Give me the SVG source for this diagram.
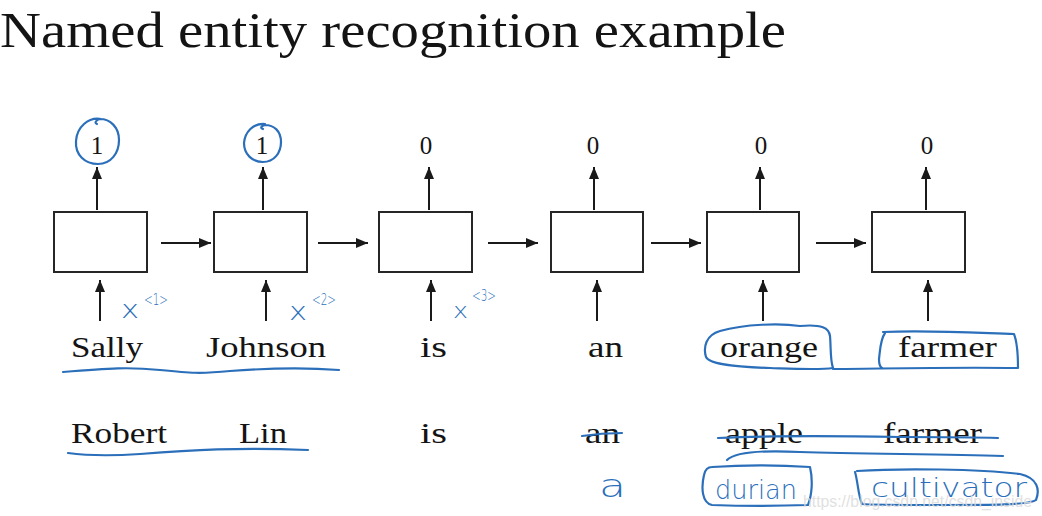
<svg xmlns="http://www.w3.org/2000/svg" width="1042" height="516" viewBox="0 0 1042 516">
<defs>
<style>
.bg{fill:#ffffff}
.cell{fill:#ffffff;stroke:#262626;stroke-width:2}
.arr{stroke:#1a1a1a;stroke-width:2;fill:none;marker-end:url(#ah)}
.serif{font-family:"Liberation Serif","DejaVu Serif",serif;fill:#141414}
.out{font-size:25px;text-anchor:middle}
.word{font-size:29px}
.ink{fill:none;stroke:#2b6fba;stroke-width:2.2;stroke-linecap:round;stroke-linejoin:round}
.hand{font-family:"DejaVu Sans","Noto Sans",sans-serif;fill:#2b6fba;font-weight:300}
.wm{font-family:"Liberation Sans",Arial,sans-serif;font-size:17px;fill:#dcdcdc;opacity:0.85}
</style>
<marker id="ah" markerWidth="12" markerHeight="10" refX="12" refY="5" orient="auto" markerUnits="userSpaceOnUse">
<path d="M0,0 L12,5 L0,10 z" fill="#1a1a1a"/>
</marker>
</defs>
<rect class="bg" x="0" y="0" width="1042" height="516"/>
<text class="serif" x="0" y="47" font-size="50" textLength="786" lengthAdjust="spacingAndGlyphs">Named entity recognition example</text>

<g id="connectors">
<line class="arr" x1="97" y1="210" x2="97" y2="167"/>
<line class="arr" x1="263" y1="210" x2="263" y2="167"/>
<line class="arr" x1="429" y1="210" x2="429" y2="167"/>
<line class="arr" x1="594" y1="210" x2="594" y2="167"/>
<line class="arr" x1="760" y1="210" x2="760" y2="167"/>
<line class="arr" x1="926" y1="210" x2="926" y2="167"/>
<line class="arr" x1="100" y1="321" x2="100" y2="280"/>
<line class="arr" x1="266" y1="321" x2="266" y2="280"/>
<line class="arr" x1="431" y1="321" x2="431" y2="280"/>
<line class="arr" x1="597" y1="321" x2="597" y2="280"/>
<line class="arr" x1="763" y1="321" x2="763" y2="280"/>
<line class="arr" x1="928" y1="321" x2="928" y2="280"/>
<line class="arr" x1="161" y1="243" x2="211" y2="243"/>
<line class="arr" x1="318" y1="243" x2="368" y2="243"/>
<line class="arr" x1="488" y1="243" x2="538" y2="243"/>
<line class="arr" x1="651" y1="243" x2="701" y2="243"/>
<line class="arr" x1="816" y1="243" x2="866" y2="243"/>
</g>

<g id="cell1"><rect class="cell" x="54" y="212" width="93" height="60"/><text class="serif out" x="97" y="154">1</text></g>
<g id="cell2"><rect class="cell" x="214" y="212" width="93" height="60"/><text class="serif out" x="262" y="154">1</text></g>
<g id="cell3"><rect class="cell" x="379" y="212" width="93" height="60"/><text class="serif out" x="426" y="154">0</text></g>
<g id="cell4"><rect class="cell" x="551" y="212" width="92" height="60"/><text class="serif out" x="593" y="154">0</text></g>
<g id="cell5"><rect class="cell" x="707" y="212" width="92" height="60"/><text class="serif out" x="761" y="154">0</text></g>
<g id="cell6"><rect class="cell" x="872" y="212" width="93" height="60"/><text class="serif out" x="927" y="154">0</text></g>

<g id="sentence1" class="serif word">
<text x="71" y="357" textLength="72" lengthAdjust="spacingAndGlyphs">Sally</text>
<text x="206" y="357" textLength="120" lengthAdjust="spacingAndGlyphs">Johnson</text>
<text x="420" y="357" textLength="27" lengthAdjust="spacingAndGlyphs">is</text>
<text x="588" y="357" textLength="35" lengthAdjust="spacingAndGlyphs">an</text>
<text x="720" y="357" textLength="98" lengthAdjust="spacingAndGlyphs">orange</text>
<text x="898" y="357" textLength="99" lengthAdjust="spacingAndGlyphs">farmer</text>
</g>
<g id="sentence2" class="serif word">
<text x="71" y="443" textLength="96" lengthAdjust="spacingAndGlyphs">Robert</text>
<text x="239" y="443" textLength="48" lengthAdjust="spacingAndGlyphs">Lin</text>
<text x="420" y="443" textLength="27" lengthAdjust="spacingAndGlyphs">is</text>
<text x="585" y="443" textLength="35" lengthAdjust="spacingAndGlyphs">an</text>
<text x="725" y="443" textLength="78" lengthAdjust="spacingAndGlyphs">apple</text>
<text x="883" y="443" textLength="99" lengthAdjust="spacingAndGlyphs">farmer</text>
</g>

<g id="annotations">
<path class="ink" d="M101,119 C88,117 77,127 76,141 C75,155 85,164 98,164 C111,164 119,153 119,140 C119,127 110,119 100,119 C96,120 94,123 97,124"/>
<path class="ink" d="M265,124 C253,123 245,132 244,143 C244,154 252,162 263,162 C274,162 281,153 281,142 C281,131 274,125 265,125 C261,126 260,128 263,129"/>
<text class="hand" x="121" y="318" font-size="24" textLength="18" lengthAdjust="spacingAndGlyphs">x</text>
<text class="hand" x="144" y="305" font-size="15" textLength="24" lengthAdjust="spacingAndGlyphs">&lt;1&gt;</text>
<text class="hand" x="289" y="320" font-size="24" textLength="18" lengthAdjust="spacingAndGlyphs">x</text>
<text class="hand" x="312" y="305" font-size="15" textLength="24" lengthAdjust="spacingAndGlyphs">&lt;2&gt;</text>
<text class="hand" x="453" y="318" font-size="21" textLength="15" lengthAdjust="spacingAndGlyphs">x</text>
<text class="hand" x="472" y="301" font-size="15" textLength="24" lengthAdjust="spacingAndGlyphs">&lt;3&gt;</text>
<path class="ink" d="M63,372 C110,368 130,367 160,370 C190,373 200,374 230,371 C270,368 300,367 339,370"/>
<path class="ink" d="M68,453 C90,456 110,456 140,454 C190,450 240,447 308,450"/>
<path class="ink" d="M800,326 C780,323 745,324 720,331 C706,335 703,347 706,357 C710,365 740,367 770,368 C800,369 820,370 833,368 C830,360 831,346 830,336 C829,328 822,324 800,326"/>
<path class="ink" d="M833,369 C870,369 940,367 1017,368"/>
<path class="ink" d="M885,333 C880,340 880,352 879,359 C879,365 880,367 882,368"/>
<path class="ink" d="M883,332 C930,330 980,333 1014,334 C1018,344 1018,358 1018,368"/>
<path class="ink" d="M582,436 C595,434 610,433 622,433"/>
<path class="ink" d="M718,438 C780,435 840,436 900,437 C940,437 970,437 998,438"/>
<path class="ink" d="M727,460 C735,452 760,450 800,452 C860,454 940,454 1003,456"/>
<text class="hand" x="599" y="497" font-size="32" textLength="27" lengthAdjust="spacingAndGlyphs">a</text>
<path class="ink" d="M712,467 C740,465 780,465 810,467 C813,480 812,495 808,505 C780,506 740,506 712,505 C702,503 701,488 704,475 C705,470 708,467 712,467"/>
<text class="hand" x="715" y="499" font-size="27" textLength="82" lengthAdjust="spacingAndGlyphs">durian</text>
<path class="ink" d="M857,471 C900,468 980,469 1020,474 C1038,478 1040,490 1036,500 C1030,505 990,505 940,505 C900,505 870,505 862,504 C858,495 858,482 855,472"/>
<text class="hand" x="871" y="497" font-size="26" textLength="156" lengthAdjust="spacingAndGlyphs">cultivator</text>
</g>
<text class="wm" x="803" y="507" textLength="229" lengthAdjust="spacingAndGlyphs">https://blog.csdn.net/csdn_inside</text>
</svg>
